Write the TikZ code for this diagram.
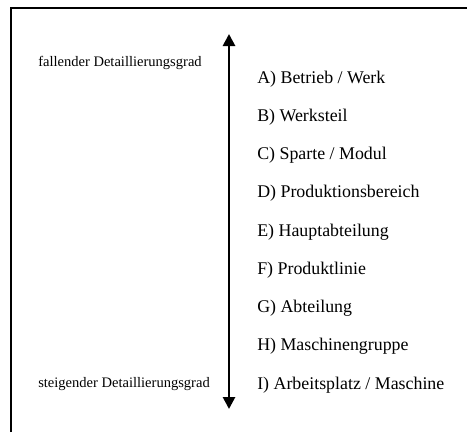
\documentclass[tikz,border=0pt]{standalone}
\usepackage{fontspec}
\setmainfont{Liberation Serif}
\usepackage{tikz}
\usetikzlibrary{arrows.meta}

\begin{document}
\begin{tikzpicture}[
    x=0.75pt, y=-0.75pt,
    item/.style={anchor=base west, inner sep=0pt, font=\fontsize{13.4}{16}\selectfont},
    lbl/.style={anchor=base west, inner sep=0pt, font=\fontsize{10.9}{13}\selectfont}
]
\useasboundingbox (0,0) rectangle (467,432);
% frame (only top and left edge visible)
\draw[line width=1.2pt] (11,432) |- (467,8);

% direction of detail
\coordinate (top) at (229,34);
\coordinate (bottom) at (229,409);
\draw[line width=2pt, {Triangle[width=9pt,length=9pt]}-{Triangle[width=9pt,length=9pt]}] (top) -- (bottom);
\node[lbl] (fall) at (38,66) {fallender Detaillierungsgrad};
\node[lbl] (steig) at (38,387) {steigender Detaillierungsgrad};

% levels
\node[item] (A) at (257,83) {A) Betrieb / Werk};
\node[item] (B) at (257,121.2) {B) Werksteil};
\node[item] (C) at (257,159.5) {C) Sparte / Modul};
\node[item] (D) at (257,197.7) {D) Produktionsbereich};
\node[item] (E) at (257,236) {E) Hauptabteilung};
\node[item] (F) at (257,274.2) {F) Produktlinie};
\node[item] (G) at (257,312.5) {G) Abteilung};
\node[item] (H) at (257,350.7) {H) Maschinengruppe};
\node[item] (I) at (257,389) {I) Arbeitsplatz / Maschine};
\end{tikzpicture}
\end{document}
